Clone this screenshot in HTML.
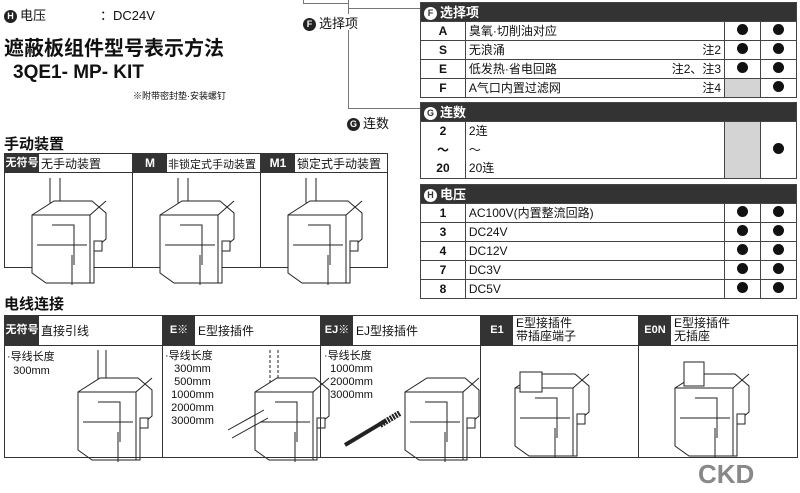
<!DOCTYPE html>
<html><head><meta charset="utf-8"><style>
*{margin:0;padding:0;box-sizing:border-box}
body{width:800px;height:493px;background:#fff;position:relative;overflow:hidden;font-family:"Liberation Sans","Noto Sans CJK SC",sans-serif;color:#111;font-size:12px}
.a{position:absolute;white-space:nowrap}
.circ{display:inline-block;width:13px;height:13px;border-radius:50%;background:#222;color:#fff;font-size:9px;font-weight:bold;text-align:center;line-height:13px;vertical-align:1px;margin-right:3px}
.hdr .circ{background:#fff;color:#333}
table{position:absolute;border-collapse:collapse;font-size:12px}
td{border:1px solid #444;height:19px;padding:0 3px;line-height:17px}
.hdr td{background:#333;color:#fff;font-weight:bold;font-size:13px}
.c{text-align:center;font-weight:bold}
.g{background:#d4d4d4}
.dot{display:inline-block;width:11px;height:11px;border-radius:50%;background:#111}
.r{float:right}
.box{position:absolute;border:1.5px solid #333}
.lab{position:absolute;background:#333;color:#fff;font-weight:bold;text-align:center}
.ln{position:absolute;background:#777}
</style></head><body>
<div class="a" style="left:4px;top:5px;font-size:13px"><span class="circ">H</span>电压</div>
<div class="a" style="left:100px;top:5px;font-size:13px">：DC24V</div>
<div class="a" style="left:4px;top:32px;font-size:20px;font-weight:bold">遮蔽板组件型号表示方法</div>
<div class="a" style="left:13px;top:62px;font-size:19px;font-weight:bold">3QE1- MP- KIT</div>
<div class="a" style="left:133px;top:89px;font-size:9px">※附带密封垫·安装螺钉</div>
<div class="ln" style="left:303px;top:0;width:1px;height:3px"></div>
<div class="ln" style="left:303px;top:3px;width:45px;height:1px"></div>
<div class="ln" style="left:348px;top:8px;width:72px;height:1px"></div>
<div class="ln" style="left:348px;top:0;width:1px;height:14px"></div>
<div class="ln" style="left:348px;top:30px;width:1px;height:78px"></div>
<div class="ln" style="left:348px;top:108px;width:72px;height:1px"></div>
<div class="a" style="left:303px;top:13px;font-size:13px"><span class="circ">F</span>选择项</div>
<div class="a" style="left:347px;top:113px;font-size:13px"><span class="circ">G</span>连数</div>

<table style="left:420px;top:2px;width:377px">
<colgroup><col style="width:45px"><col style="width:260px"><col style="width:36px"><col style="width:36px"></colgroup>
<tr class="hdr"><td colspan="4"><span class="circ">F</span>选择项</td></tr>
<tr><td class="c">A</td><td>臭氧·切削油对应</td><td class="c"><span class="dot"></span></td><td class="c"><span class="dot"></span></td></tr>
<tr><td class="c">S</td><td>无浪涌<span class="r">注2</span></td><td class="c"><span class="dot"></span></td><td class="c"><span class="dot"></span></td></tr>
<tr><td class="c">E</td><td>低发热·省电回路<span class="r">注2、注3</span></td><td class="c"><span class="dot"></span></td><td class="c"><span class="dot"></span></td></tr>
<tr><td class="c">F</td><td>A气口内置过滤网<span class="r">注4</span></td><td class="g"></td><td class="c"><span class="dot"></span></td></tr>
</table>
<table style="left:420px;top:102px;width:377px">
<colgroup><col style="width:45px"><col style="width:260px"><col style="width:36px"><col style="width:36px"></colgroup>
<tr class="hdr"><td colspan="4"><span class="circ">G</span>连数</td></tr>
<tr><td class="c" style="border-bottom:0">2</td><td style="border-bottom:0">2连</td><td class="g" rowspan="3"></td><td class="c" rowspan="3"><span class="dot"></span></td></tr>
<tr><td class="c" style="border:0;border-left:1px solid #444">～</td><td style="border-top:0;border-bottom:0">～</td></tr>
<tr><td class="c" style="border-top:0">20</td><td style="border-top:0">20连</td></tr>
</table>
<table style="left:420px;top:184px;width:377px">
<colgroup><col style="width:45px"><col style="width:260px"><col style="width:36px"><col style="width:36px"></colgroup>
<tr class="hdr"><td colspan="4"><span class="circ">H</span>电压</td></tr>
<tr><td class="c">1</td><td>AC100V(内置整流回路)</td><td class="c"><span class="dot"></span></td><td class="c"><span class="dot"></span></td></tr>
<tr><td class="c">3</td><td>DC24V</td><td class="c"><span class="dot"></span></td><td class="c"><span class="dot"></span></td></tr>
<tr><td class="c">4</td><td>DC12V</td><td class="c"><span class="dot"></span></td><td class="c"><span class="dot"></span></td></tr>
<tr><td class="c">7</td><td>DC3V</td><td class="c"><span class="dot"></span></td><td class="c"><span class="dot"></span></td></tr>
<tr><td class="c">8</td><td>DC5V</td><td class="c"><span class="dot"></span></td><td class="c"><span class="dot"></span></td></tr>
</table>

<div class="a" style="left:4px;top:133px;font-size:15px;font-weight:bold">手动装置</div>
<div class="box" style="left:4px;top:153px;width:384px;height:115px"></div>
<div class="ln" style="left:4px;top:172px;width:384px;height:1px;background:#333"></div>
<div class="ln" style="left:132px;top:153px;width:1px;height:115px;background:#333"></div>
<div class="ln" style="left:260px;top:153px;width:1px;height:115px;background:#333"></div>
<div class="lab" style="left:5px;top:154px;width:34px;height:18px;line-height:18px;font-size:11px">无符号</div>
<div class="a" style="left:41px;top:155px;font-size:12px">无手动装置</div>
<div class="lab" style="left:133px;top:154px;width:34px;height:18px;line-height:18px">M</div>
<div class="a" style="left:168px;top:156px;font-size:11px">非锁定式手动装置</div>
<div class="lab" style="left:261px;top:154px;width:34px;height:18px;line-height:18px">M1</div>
<div class="a" style="left:297px;top:155px;font-size:12px">锁定式手动装置</div>

<svg class="a" style="left:0;top:0" width="800" height="493" fill="none" stroke="#222" stroke-width="1">
<defs>
<g id="blk"><path d="M0 20l22-14h38l14 12v26l-12 10v34l-48 0l-14-10z" fill="#fff"/><path d="M0 20h58l16-14M58 20v68M20 30h22v40M5 50h50M40 60v30" /><rect x="62" y="46" width="8" height="10" fill="#fff"/></g>
</defs>
<g id="v"><path d="M50 178v28M60 178v28"/><use href="#blk" x="32" y="195" transform="scale(1)"/></g>
<use href="#v" x="128"/><use href="#v" x="256"/>
<path d="M98 350v40M106 350v40"/><use href="#blk" x="78" y="372"/>
<path d="M270 350v40M278 350v40" stroke-dasharray="3 2"/><use href="#blk" x="255" y="372"/><path d="M228 430l36-20M232 438l36-20"/>
<path d="M345 445l40-24" stroke-width="4"/><path d="M380 425l20-12" stroke-width="6" stroke-dasharray="2 1"/><use href="#blk" x="405" y="372"/>
<use href="#blk" x="515" y="368"/><rect x="520" y="372" width="22" height="20" fill="#fff"/>
<use href="#blk" x="675" y="368"/><rect x="684" y="362" width="20" height="24" fill="#fff"/>
</svg>

<div class="a" style="left:4px;top:293px;font-size:15px;font-weight:bold">电线连接</div>
<div class="box" style="left:4px;top:315px;width:794px;height:143px"></div>
<div class="ln" style="left:4px;top:345px;width:794px;height:1px;background:#333"></div>
<div class="ln" style="left:162px;top:315px;width:1px;height:143px;background:#333"></div>
<div class="ln" style="left:320px;top:315px;width:1px;height:143px;background:#333"></div>
<div class="ln" style="left:480px;top:315px;width:1px;height:143px;background:#333"></div>
<div class="ln" style="left:638px;top:315px;width:1px;height:143px;background:#333"></div>
<div class="lab" style="left:5px;top:316px;width:34px;height:29px;line-height:29px;font-size:11px">无符号</div>
<div class="a" style="left:41px;top:322px">直接引线</div>
<div class="lab" style="left:163px;top:316px;width:32px;height:29px;line-height:29px;font-size:11px">E※</div>
<div class="a" style="left:198px;top:322px">E型接插件</div>
<div class="lab" style="left:321px;top:316px;width:32px;height:29px;line-height:29px;font-size:11px">EJ※</div>
<div class="a" style="left:356px;top:322px">EJ型接插件</div>
<div class="lab" style="left:481px;top:316px;width:32px;height:29px;line-height:29px;font-size:11px">E1</div>
<div class="a" style="left:516px;top:317px;line-height:13px">E型接插件<br>带插座端子</div>
<div class="lab" style="left:639px;top:316px;width:32px;height:29px;line-height:29px;font-size:11px">E0N</div>
<div class="a" style="left:674px;top:317px;line-height:13px">E型接插件<br>无插座</div>
<div class="a" style="left:7px;top:350px;font-size:11px;line-height:14px">·导线长度<br>&nbsp;&nbsp;300mm</div>
<div class="a" style="left:165px;top:350px;font-size:11px;line-height:13px">·导线长度<br>&nbsp;&nbsp;&nbsp;300mm<br>&nbsp;&nbsp;&nbsp;500mm<br>&nbsp;&nbsp;1000mm<br>&nbsp;&nbsp;2000mm<br>&nbsp;&nbsp;3000mm</div>
<div class="a" style="left:324px;top:350px;font-size:11px;line-height:13px">·导线长度<br>&nbsp;&nbsp;1000mm<br>&nbsp;&nbsp;2000mm<br>&nbsp;&nbsp;3000mm</div>
<div class="a" style="left:698px;top:459px;font-size:26px;font-weight:bold;color:#888">CKD</div>
</body></html>
